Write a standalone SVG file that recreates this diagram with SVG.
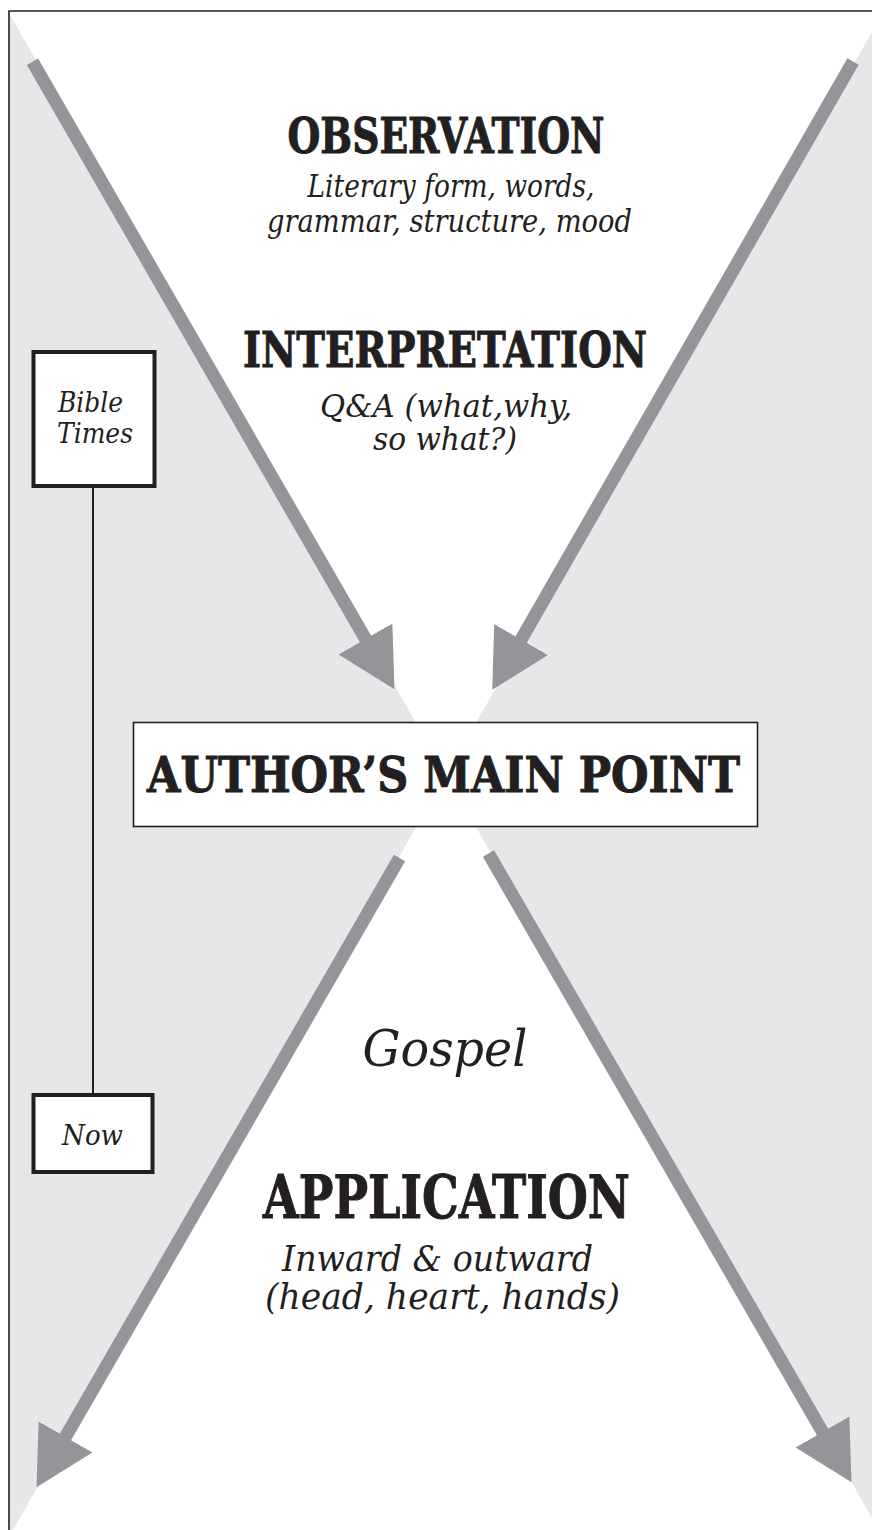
<svg xmlns="http://www.w3.org/2000/svg" width="872" height="1530" viewBox="0 0 872 1530">
<style>
.bg{fill:#ffffff}
.shade{fill:#e6e7e8}
.frame{stroke:#231f20;stroke-width:1.6;fill:none}
.arrow{stroke:#939598;stroke-width:13;stroke-linecap:butt;fill:none}
.head{fill:#939598}
.h{font-family:"DejaVu Serif",serif;font-weight:bold;fill:#231f20;stroke:#231f20;stroke-width:1;text-anchor:middle}
.i{font-family:"DejaVu Serif",serif;font-style:italic;fill:#231f20;text-anchor:middle}
.box{fill:#ffffff;stroke:#231f20}
</style>
<defs>
<marker id="ah" markerUnits="userSpaceOnUse" viewBox="0 0 58 62" refX="1" refY="31" markerWidth="58" markerHeight="62" orient="auto">
<path class="head" d="M0,0 L58,31 L0,62 Z"/>
</marker>
</defs>
<rect class="bg" x="0" y="0" width="872" height="1530"/>
<g id="background">
<polygon class="shade" points="9,13 446,775 13,1530 9,1530"/>
<polygon class="shade" points="872,32 446,775 872,1518"/>
<path class="frame" d="M9,1530 L9,11 L872,11"/>
</g>
<g id="connectors">
<line class="arrow" x1="32.5" y1="61.7" x2="366" y2="639.8" marker-end="url(#ah)"/>
<line class="arrow" x1="853" y1="61.5" x2="520.6" y2="640.4" marker-end="url(#ah)"/>
<line class="arrow" x1="399.5" y1="858" x2="65" y2="1437.8" marker-end="url(#ah)"/>
<line class="arrow" x1="488.5" y1="853.4" x2="823" y2="1432.8" marker-end="url(#ah)"/>
<line x1="93" y1="488" x2="93" y2="1094" stroke="#231f20" stroke-width="2"/>
</g>
<g id="observation">
<text class="h" x="446" y="153" font-size="48" textLength="317" lengthAdjust="spacingAndGlyphs">OBSERVATION</text>
<text class="i" x="451" y="197" font-size="31" textLength="287" lengthAdjust="spacingAndGlyphs">Literary form, words,</text>
<text class="i" x="449.5" y="232" font-size="31" textLength="365" lengthAdjust="spacingAndGlyphs">grammar, structure, mood</text>
</g>
<g id="interpretation">
<text class="h" x="445" y="367" font-size="48" textLength="404" lengthAdjust="spacingAndGlyphs">INTERPRETATION</text>
<text class="i" x="446" y="417" font-size="31" textLength="252" lengthAdjust="spacingAndGlyphs">Q&amp;A (what,why,</text>
<text class="i" x="445" y="450" font-size="31" textLength="144" lengthAdjust="spacingAndGlyphs">so what?)</text>
</g>
<g id="main-point">
<rect class="box" x="133.5" y="722.5" width="624" height="104" stroke-width="1.6"/>
<text class="h" x="443.5" y="792" font-size="48" textLength="593" lengthAdjust="spacingAndGlyphs">AUTHOR’S MAIN POINT</text>
</g>
<g id="gospel">
<text class="i" x="445" y="1066" font-size="50" textLength="165" lengthAdjust="spacingAndGlyphs">Gospel</text>
</g>
<g id="application">
<text class="h" x="446.5" y="1218" font-size="59" textLength="367" lengthAdjust="spacingAndGlyphs">APPLICATION</text>
<text class="i" x="437.5" y="1271" font-size="35" textLength="311" lengthAdjust="spacingAndGlyphs">Inward &amp; outward</text>
<text class="i" x="442.5" y="1309" font-size="35" textLength="355" lengthAdjust="spacingAndGlyphs">(head, heart, hands)</text>
</g>
<g id="bible-times">
<rect class="box" x="33.5" y="352" width="121" height="134" stroke-width="4"/>
<text class="i" x="90.5" y="412" font-size="28" textLength="65" lengthAdjust="spacingAndGlyphs">Bible</text>
<text class="i" x="95" y="443" font-size="28" textLength="76" lengthAdjust="spacingAndGlyphs">Times</text>
</g>
<g id="now">
<rect class="box" x="33.5" y="1095" width="119" height="77" stroke-width="4"/>
<text class="i" x="92.5" y="1145" font-size="28" textLength="61" lengthAdjust="spacingAndGlyphs">Now</text>
</g>
</svg>
